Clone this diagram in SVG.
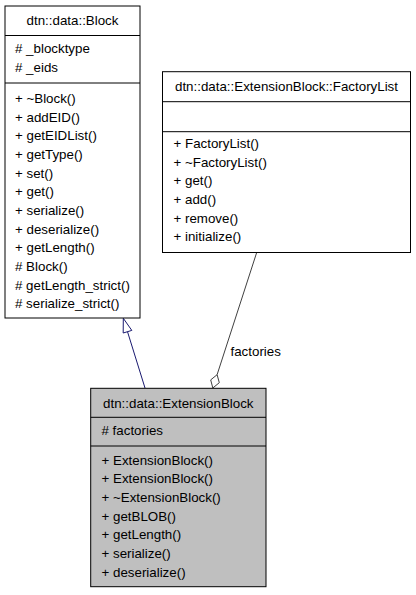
<svg xmlns="http://www.w3.org/2000/svg" width="416" height="595" viewBox="0 0 416 595">
<style>
text{font-family:"Liberation Sans",Arial,sans-serif;font-size:13.33px;fill:#000}
.t{text-anchor:middle}
.box{fill:#fff;stroke:#000;stroke-width:1}
.gray{fill:#bfbfbf;stroke:#000;stroke-width:1}
.div{stroke:#000;stroke-width:1}
</style>
<rect width="416" height="595" fill="#fff"/>
<g id="connectors">
  <g id="inherit">
    <line x1="145" y1="388" x2="127.5" y2="331.7" stroke="#191970" stroke-width="1"/>
    <polygon points="123.3,318.3 131.8,330.4 123.2,333" fill="#fff" stroke="#191970" stroke-width="1"/>
  </g>
  <g id="aggregation">
    <line x1="256.7" y1="252.5" x2="217.1" y2="374.7" stroke="#404040" stroke-width="1"/>
    <polygon points="212.8,388 219.3,382.7 217.1,374.7 210.7,379.9" fill="#fff" stroke="#404040" stroke-width="1"/>
    <text x="230.5" y="356">factories</text>
  </g>
</g>
<g id="node-block">
  <rect class="box" x="5" y="6" width="135" height="312"/>
  <line class="div" x1="5" y1="35.5" x2="140" y2="35.5"/>
  <line class="div" x1="5" y1="83" x2="140" y2="83"/>
  <text class="t" x="72.5" y="25">dtn::data::Block</text>
  <text x="15" y="53"># _blocktype</text>
  <text x="15" y="71.7"># _eids</text>
  <text x="15" y="103">+ ~Block()</text>
  <text x="15" y="121.7">+ addEID()</text>
  <text x="15" y="140.3">+ getEIDList()</text>
  <text x="15" y="159">+ getType()</text>
  <text x="15" y="177.7">+ set()</text>
  <text x="15" y="196.3">+ get()</text>
  <text x="15" y="215">+ serialize()</text>
  <text x="15" y="233.7">+ deserialize()</text>
  <text x="15" y="252.3">+ getLength()</text>
  <text x="15" y="271"># Block()</text>
  <text x="15" y="289.7"># getLength_strict()</text>
  <text x="15" y="308.3"># serialize_strict()</text>
</g>
<g id="node-factorylist">
  <rect class="box" x="162.5" y="71.7" width="248" height="180.8"/>
  <line class="div" x1="162.5" y1="101.7" x2="410.5" y2="101.7"/>
  <line class="div" x1="162.5" y1="131.7" x2="410.5" y2="131.7"/>
  <text class="t" x="286.5" y="90.8">dtn::data::ExtensionBlock::FactoryList</text>
  <text x="173.5" y="148">+ FactoryList()</text>
  <text x="173.5" y="166.7">+ ~FactoryList()</text>
  <text x="173.5" y="185.3">+ get()</text>
  <text x="173.5" y="204">+ add()</text>
  <text x="173.5" y="222.7">+ remove()</text>
  <text x="173.5" y="241.3">+ initialize()</text>
</g>
<g id="node-extensionblock">
  <rect class="gray" x="90.7" y="388.3" width="175.3" height="198.4"/>
  <line class="div" x1="90.7" y1="417.3" x2="266" y2="417.3"/>
  <line class="div" x1="90.7" y1="446" x2="266" y2="446"/>
  <text class="t" x="178.3" y="407.5">dtn::data::ExtensionBlock</text>
  <text x="101.5" y="434.5"># factories</text>
  <text x="101.5" y="464.5">+ ExtensionBlock()</text>
  <text x="101.5" y="483.2">+ ExtensionBlock()</text>
  <text x="101.5" y="501.8">+ ~ExtensionBlock()</text>
  <text x="101.5" y="520.5">+ getBLOB()</text>
  <text x="101.5" y="539.2">+ getLength()</text>
  <text x="101.5" y="557.8">+ serialize()</text>
  <text x="101.5" y="576.5">+ deserialize()</text>
</g>
</svg>
